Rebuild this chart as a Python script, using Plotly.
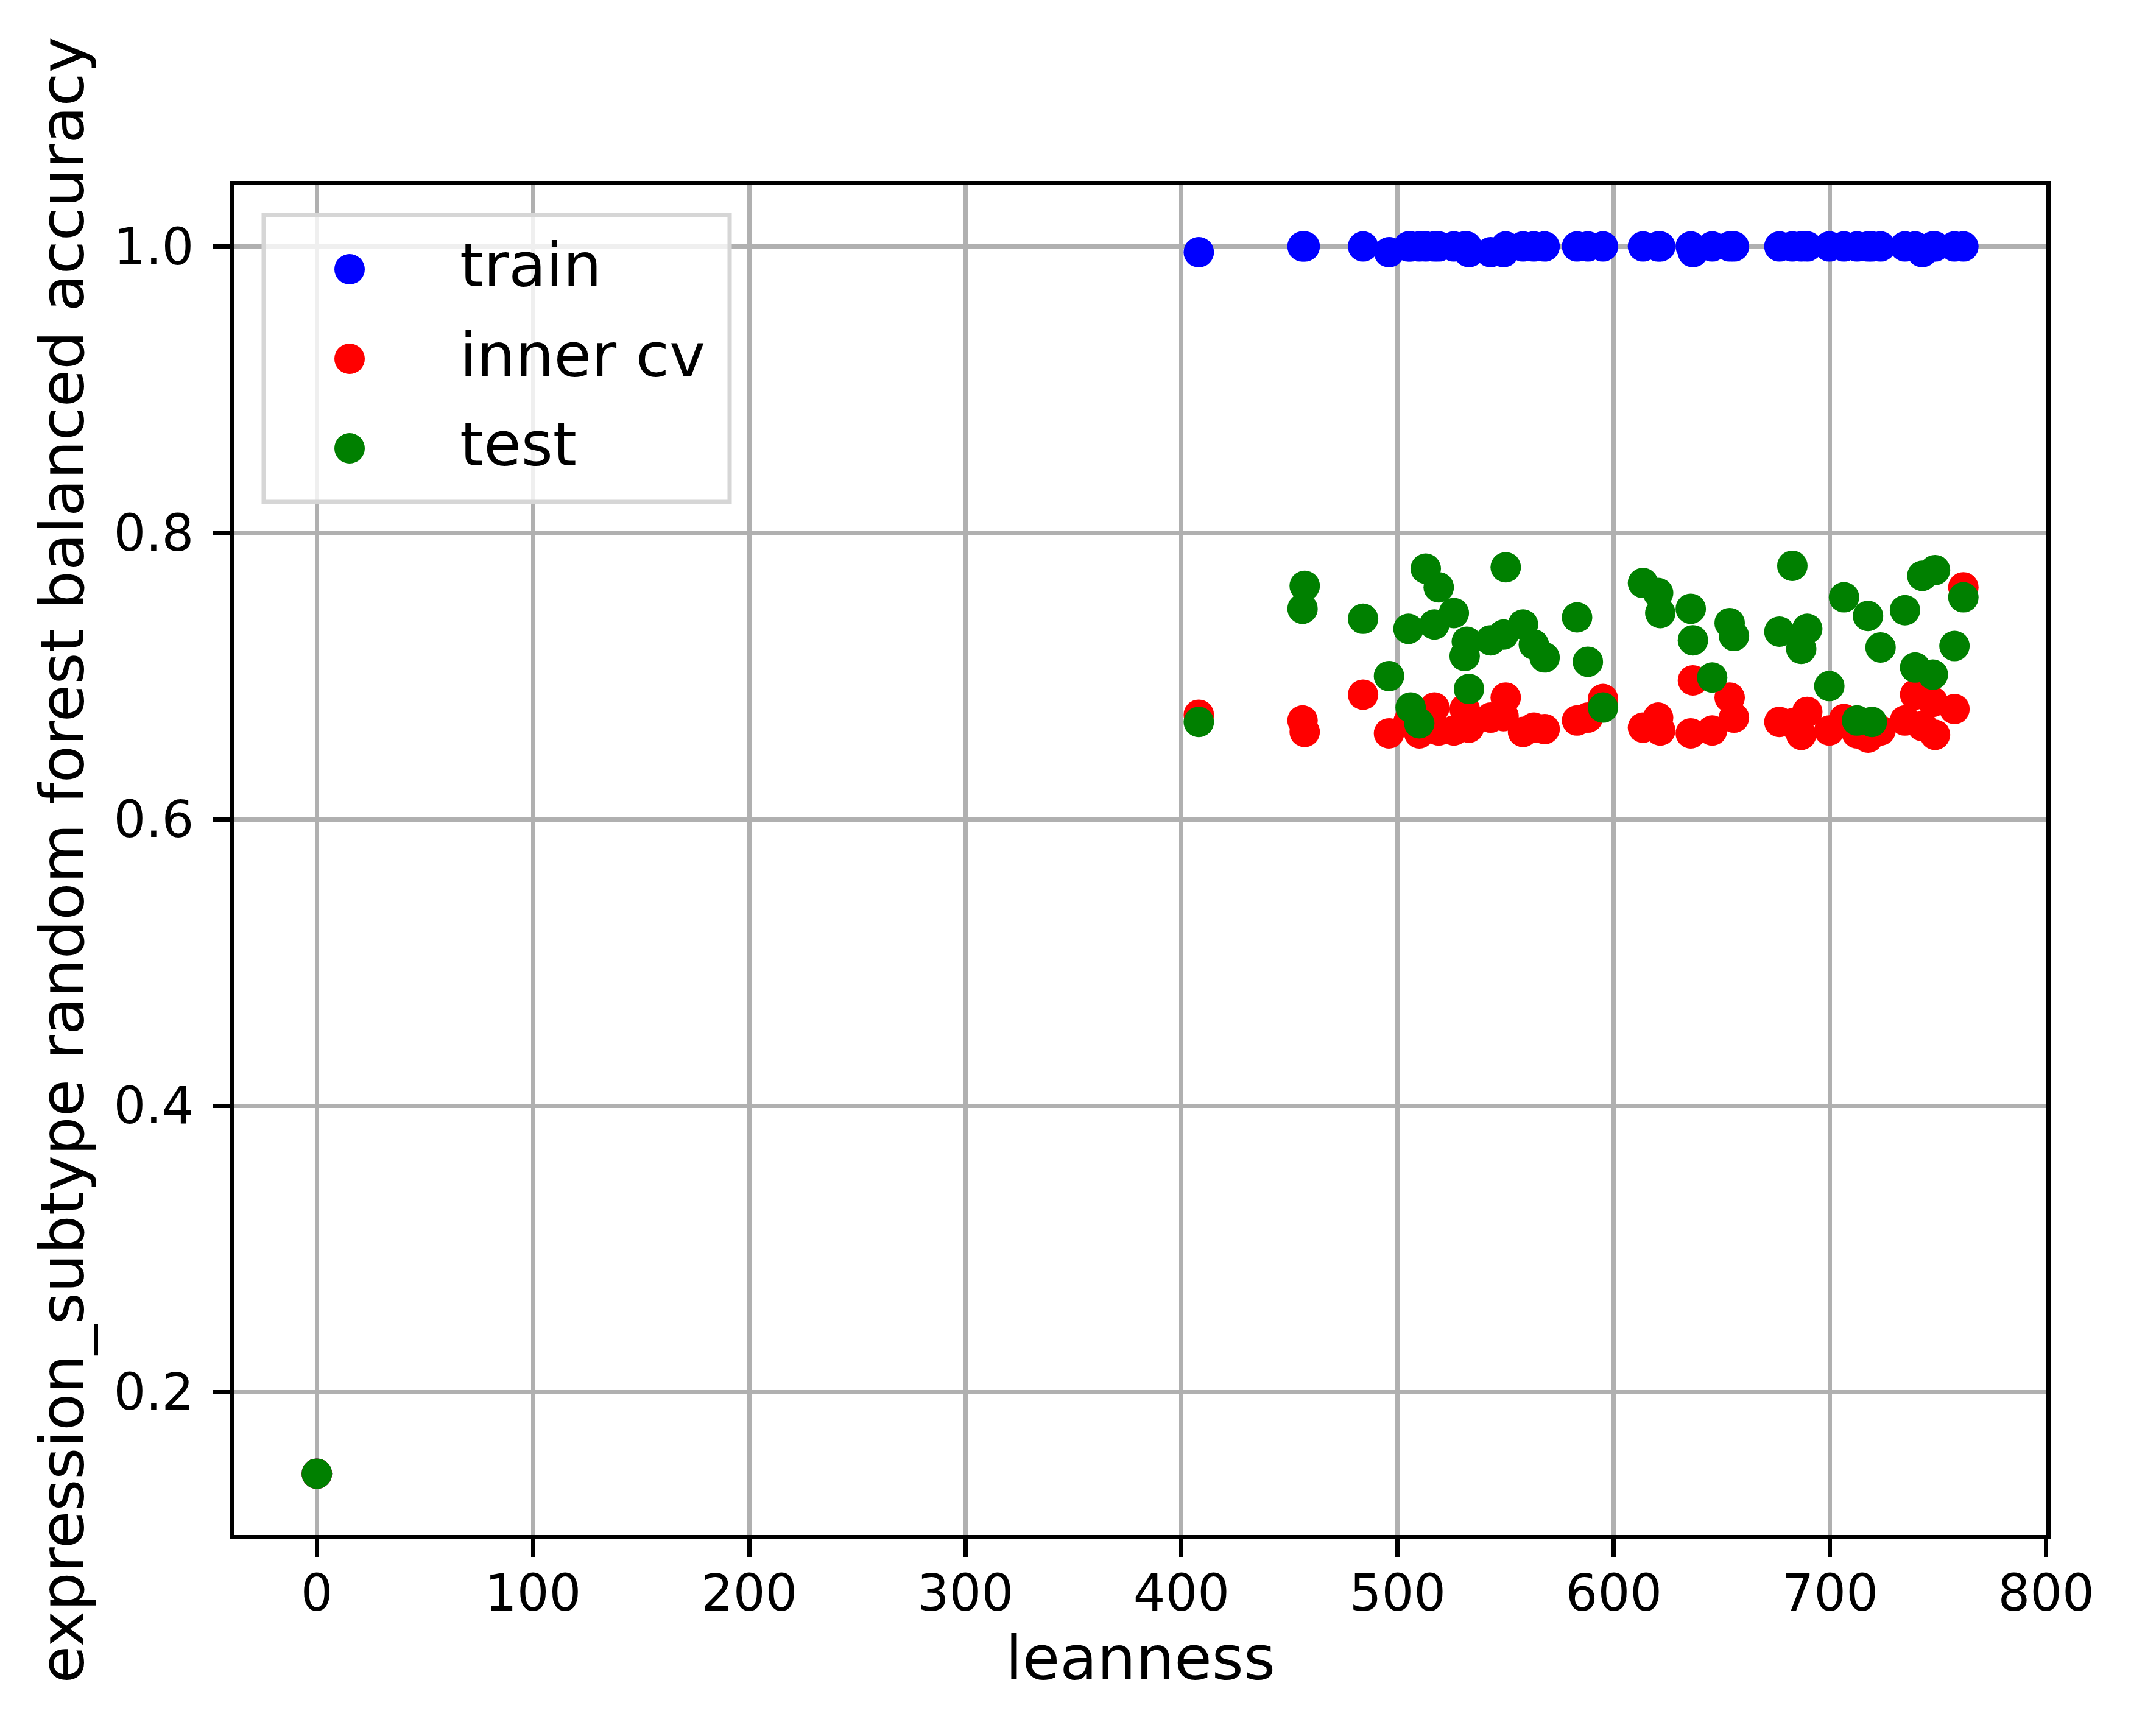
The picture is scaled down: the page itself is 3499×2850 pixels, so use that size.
import plotly.graph_objects as go

# leanness of each fitted configuration
leanness = [0, 408, 456, 457, 484, 496, 505, 506, 510, 513, 517, 519, 526,
            531, 532, 533, 543, 549, 550, 558, 563, 568, 583, 588, 595,
            613.5, 620.5, 621.5, 635.6, 636.6, 645.5, 653.6, 655.6, 676.6,
            682.6, 686.7, 689.5, 699.7, 706.5, 712.5, 717.6, 719.4, 723.4,
            734.7, 739.4, 742.7, 747.6, 748.6, 757.6, 761.7]

train = [0.143, 0.996, 1.0, 1.0, 1.0, 0.996, 1.0, 1.0, 1.0, 1.0, 1.0, 1.0, 1.0,
         1.0, 1.0, 0.996, 0.996, 0.996, 1.0, 1.0, 1.0, 1.0, 1.0, 1.0, 1.0,
         1.0, 1.0, 1.0, 1.0, 0.996, 1.0, 1.0, 1.0, 1.0,
         1.0, 1.0, 1.0, 1.0, 1.0, 1.0, 1.0, 1.0, 1.0,
         1.0, 1.0, 0.996, 1.0, 1.0, 1.0, 1.0]

inner_cv = [0.143, 0.673, 0.669, 0.661, 0.687, 0.660, 0.668, 0.672, 0.660,
            0.665, 0.678, 0.662, 0.662, 0.677, 0.670, 0.664, 0.671, 0.672,
            0.685, 0.661, 0.664, 0.663, 0.669, 0.671, 0.684,
            0.664, 0.671, 0.662, 0.660, 0.697, 0.662, 0.685, 0.671, 0.668,
            0.667, 0.659, 0.675, 0.662, 0.670, 0.660, 0.657, 0.660, 0.662,
            0.669, 0.687, 0.665, 0.682, 0.659, 0.677, 0.762]

test = [0.143, 0.668, 0.747, 0.763, 0.740, 0.700, 0.733, 0.678, 0.667,
        0.775, 0.736, 0.762, 0.744, 0.714, 0.724, 0.691, 0.725, 0.729,
        0.776, 0.736, 0.722, 0.713, 0.741, 0.710, 0.678,
        0.765, 0.758, 0.744, 0.747, 0.725, 0.699, 0.737, 0.728, 0.731,
        0.777, 0.719, 0.733, 0.693, 0.755, 0.669, 0.742, 0.668, 0.720,
        0.746, 0.706, 0.770, 0.701, 0.774, 0.721, 0.755]

series = [("train", train, "blue"),
          ("inner cv", inner_cv, "red"),
          ("test", test, "green")]

W, H = 3499, 2850
L, R, T, B = 385, 3360, 304, 2520
PAGE = 8  # default body margin of the html page
FONT = "DejaVu Sans"


def px(x):
    return (x - L) / (R - L)


def py(y):
    return (B - y) / (B - T)


fig = go.Figure()
for name, vals, color in series:
    fig.add_trace(go.Scatter(x=leanness, y=vals, mode="markers", name=name,
                             marker=dict(color=color, size=50, line_width=0),
                             showlegend=False))

axis_common = dict(showline=True, mirror=True, linecolor="black", linewidth=7,
                   ticks="outside", ticklen=29, tickwidth=7, tickcolor="black",
                   showgrid=True, gridcolor="#b0b0b0", gridwidth=7,
                   zeroline=False, tickfont=dict(family=FONT, size=83, color="black"))

fig.update_xaxes(range=[-38.1, 800.1], tickmode="linear", tick0=0, dtick=100,
                 title=dict(text="leanness", font=dict(family=FONT, size=100, color="black"),
                            standoff=22),
                 ticklabelstandoff=-12, **axis_common)
fig.update_yaxes(range=[0.1002, 1.0428], tickmode="linear", tick0=0.2, dtick=0.2,
                 tickformat=".1f",
                 title=dict(text="expression_subtype random forest balanced accuracy",
                            font=dict(family=FONT, size=100, color="black"), standoff=18),
                 ticklabelstandoff=14, **axis_common)

# legend box drawn like matplotlib's default frame
shapes = [dict(type="rect", xref="paper", yref="paper",
               x0=px(433), x1=px(1198), y0=py(824), y1=py(353),
               line=dict(color="#d6d6d6", width=7), fillcolor="rgba(255,255,255,0.8)",
               layer="above")]
annotations = []
for i, (name, vals, color) in enumerate(series):
    cy = 442 + 147 * i
    shapes.append(dict(type="circle", xref="paper", yref="paper",
                       x0=px(574 - 25), x1=px(574 + 25), y0=py(cy + 25), y1=py(cy - 25),
                       fillcolor=color, line_width=0, layer="above"))
    annotations.append(dict(xref="paper", yref="paper", x=px(753), y=py(cy - 6),
                            xanchor="left", yanchor="middle", showarrow=False, text=name,
                            font=dict(family=FONT, size=100, color="black")))

fig.update_layout(width=W - 2 * PAGE, height=H - 2 * PAGE,
                  margin=dict(l=L - PAGE, r=W - R - PAGE, t=T - PAGE, b=H - B - PAGE),
                  paper_bgcolor="white", plot_bgcolor="white",
                  shapes=shapes, annotations=annotations)

fig.write_html("out.html")
